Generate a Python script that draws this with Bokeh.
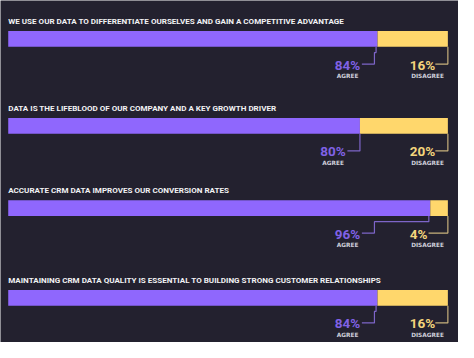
from bokeh.plotting import figure
from bokeh.models import Range1d, ColumnDataSource
from bokeh.core.properties import value
from bokeh.embed import file_html
from bokeh.resources import INLINE

# ---- data ----
questions = [
    "WE USE OUR DATA TO DIFFERENTIATE OURSELVES AND GAIN A COMPETITIVE ADVANTAGE",
    "DATA IS THE LIFEBLOOD OF OUR COMPANY AND A KEY GROWTH DRIVER",
    "ACCURATE CRM DATA IMPROVES OUR CONVERSION RATES",
    "MAINTAINING CRM DATA QUALITY IS ESSENTIAL TO BUILDING STRONG CUSTOMER RELATIONSHIPS",
]
agree = [84, 80, 96, 84]
disagree = [16, 20, 4, 16]
series_names = ["AGREE", "DISAGREE"]

# ---- layout / style ----
BG = "#23212f"
PURPLE = "#8f67fd"
YELLOW = "#ffd76c"
PURPLE_TXT = "#8062e6"
YELLOW_TXT = "#f4d57c"
PURPLE_LINE = "#7d65c8"
YELLOW_LINE = "#c8b17c"
SUB_TXT = "#cfcfdb"

W, H = 458, 342
REF_W, REF_H = 474, 358      # layout designed in reference pixels
PX = 100.0 / 455.0           # percent units per reference pixel
bar_tops = [32, 123, 209, 303]
bar_h = 16.5

p = figure(width=W, height=H, output_backend="svg", toolbar_location=None,
           x_range=Range1d(-8 * PX, (REF_W - 8) * PX), y_range=Range1d(REF_H, 0),
           min_border=0, outline_line_color=None)
p.background_fill_color = BG
p.border_fill_color = BG
p.axis.visible = False
p.grid.visible = False

# bars
ys = [t + bar_h / 2 for t in bar_tops]
src = ColumnDataSource(dict(y=ys, agree=agree, disagree=disagree,
                            total=[a + d for a, d in zip(agree, disagree)]))
p.hbar(y="y", left=0, right="agree", height=bar_h, source=src,
       fill_color=PURPLE, line_color=None)
p.hbar(y="y", left="agree", right="total", height=bar_h, source=src,
       fill_color=YELLOW, line_color=None)

# titles
p.text(x=[0] * len(questions), y=[t - 10 for t in bar_tops], text=questions,
       text_font=value("Roboto"), text_font_style="bold",
       text_font_size="8.05px", text_color="#f2f2f4",
       text_align="left", text_baseline="middle")

# labels + connectors
a_xs, a_ys, d_xs, d_ys = [], [], [], []
pa_x, pa_y, pa_t, pd_x, pd_t = [], [], [], [], []
sa_x, sd_x, s_y = [], [], []
for i in range(len(agree)):
    a = agree[i]
    tot = a + disagree[i]
    bottom = bar_tops[i] + bar_h
    line_y = bottom + 18
    virt = min(a, tot - 76 * PX)

    def line_len(v):
        w = len(str(v)) * 7 + 11
        return (41 - w - 3) * PX

    if virt < a:
        a_xs.append([a - 1.5 * PX, a - 1.5 * PX, virt, virt, virt - line_len(a)])
        a_ys.append([bottom, bottom + 6, bottom + 6, line_y, line_y])
    else:
        a_xs.append([a, a, a - line_len(a)])
        a_ys.append([bottom, line_y, line_y])
    d_xs.append([tot, tot, tot - line_len(disagree[i])])
    d_ys.append([bottom, line_y, line_y])

    pa_x.append(virt - 41 * PX)
    pd_x.append(tot - 39.5 * PX)
    pa_y.append(bottom + 18.5)
    pa_t.append(f"{a}%")
    pd_t.append(f"{disagree[i]}%")
    sa_x.append(virt - 39 * PX)
    sd_x.append(tot - 38 * PX)
    s_y.append(bottom + 30.5)

p.multi_line(xs=a_xs, ys=a_ys, line_color=PURPLE_LINE, line_width=1.2)
p.multi_line(xs=d_xs, ys=d_ys, line_color=YELLOW_LINE, line_width=1.2)

pct_font = value("Roboto")
p.text(x=pa_x, y=pa_y, text=pa_t, text_font=pct_font, text_font_style="bold",
       text_font_size="13.5px", text_color=PURPLE_TXT,
       text_align="left", text_baseline="middle")
p.text(x=pd_x, y=pa_y, text=pd_t, text_font=pct_font, text_font_style="bold",
       text_font_size="13.5px", text_color=YELLOW_TXT,
       text_align="left", text_baseline="middle")
p.text(x=sa_x, y=s_y, text=[series_names[0]] * len(agree),
       text_font=value("DejaVu Sans"), text_font_style="bold",
       text_font_size="5.8px", text_color=SUB_TXT,
       text_align="left", text_baseline="middle")
p.text(x=sd_x, y=s_y, text=[series_names[1]] * len(agree),
       text_font=value("DejaVu Sans"), text_font_style="bold",
       text_font_size="5.8px", text_color=SUB_TXT,
       text_align="left", text_baseline="middle")

html = file_html(p, INLINE)
html = html.replace("<body>", f'<body style="background-color:{BG};">', 1)
open("out.html", "w").write(html)
